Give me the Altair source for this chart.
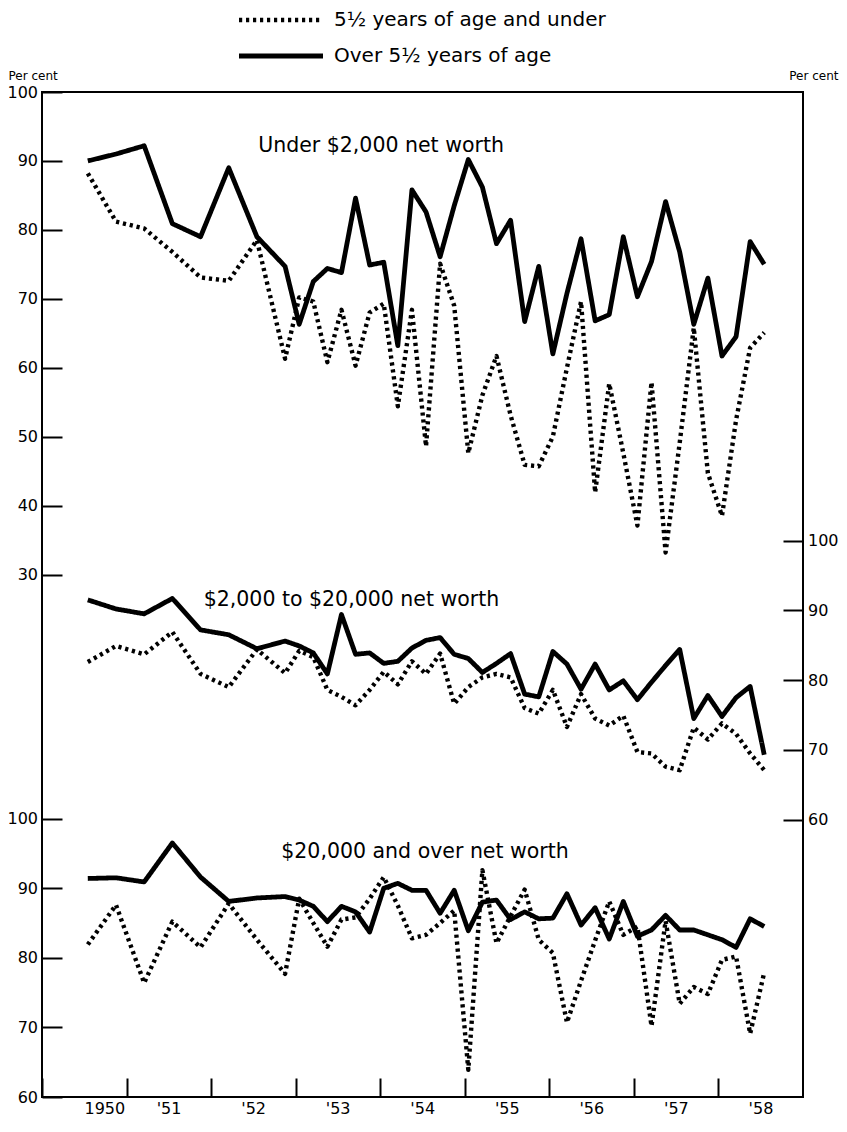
import altair as alt
import pandas as pd

YOUNG = "5½ years of age and under"
OLD = "Over 5½ years of age"

months = [
    "1950-07", "1950-11", "1951-03", "1951-07", "1951-11", "1952-03", "1952-07", "1952-11",
    "1953-01", "1953-03", "1953-05", "1953-07", "1953-09", "1953-11",
    "1954-01", "1954-03", "1954-05", "1954-07", "1954-09", "1954-11",
    "1955-01", "1955-03", "1955-05", "1955-07", "1955-09", "1955-11",
    "1956-01", "1956-03", "1956-05", "1956-07", "1956-09", "1956-11",
    "1957-01", "1957-03", "1957-05", "1957-07", "1957-09", "1957-11",
    "1958-01", "1958-03", "1958-05", "1958-07",
]

# Under $2,000 net worth
low_old = [90.0, 91.0, 92.2, 80.9, 79.0, 89.0, 79.0, 74.7, 66.3, 72.5, 74.4, 73.8, 84.6, 74.9,
           75.3, 63.2, 85.8, 82.6, 76.1, 83.5, 90.2, 86.2, 78.0, 81.4, 66.7, 74.7, 62.0, 70.8,
           78.7, 66.8, 67.7, 79.0, 70.3, 75.4, 84.1, 76.8, 66.3, 73.0, 61.7, 64.5, 78.3, 75.0]
low_young = [88.2, 81.2, 80.2, 76.8, 73.1, 72.6, 78.5, 61.3, 70.2, 69.6, 60.8, 68.4, 60.3, 68.0,
             69.3, 54.4, 68.4, 48.6, 75.1, 69.0, 47.6, 56.0, 61.7, 53.1, 45.9, 45.7, 50.0, 60.0,
             69.6, 41.9, 57.7, 47.6, 37.1, 57.9, 33.2, 49.1, 65.8, 44.7, 38.5, 52.4, 62.9, 65.1]

# $2,000 to $20,000 net worth
mid_old = [91.5, 90.2, 89.5, 91.7, 87.2, 86.5, 84.5, 85.6, 84.9, 83.9, 80.9, 89.4, 83.7, 83.9,
           82.4, 82.7, 84.6, 85.7, 86.1, 83.7, 83.1, 81.1, 82.4, 83.8, 78.0, 77.6, 84.1, 82.3,
           78.7, 82.3, 78.6, 79.9, 77.2, 79.7, 82.1, 84.4, 74.5, 77.8, 74.8, 77.5, 79.1, 69.3]
mid_young = [82.6, 84.9, 83.7, 86.9, 80.9, 79.0, 84.4, 81.0, 84.2, 83.3, 78.6, 77.6, 76.4, 78.6,
             81.2, 79.4, 82.7, 80.9, 83.8, 76.6, 79.0, 80.4, 80.9, 80.4, 76.0, 75.2, 78.6, 73.3,
             78.0, 74.5, 73.5, 74.9, 69.7, 69.5, 67.6, 67.1, 73.2, 71.5, 73.8, 72.3, 69.5, 67.1]

# $20,000 and over net worth
high_old = [91.4, 91.5, 90.9, 96.5, 91.6, 88.1, 88.6, 88.8, 88.3, 87.4, 85.2, 87.4, 86.6, 83.7,
            90.0, 90.7, 89.7, 89.7, 86.4, 89.7, 83.9, 88.0, 88.3, 85.5, 86.6, 85.6, 85.7, 89.2,
            84.7, 87.2, 82.7, 88.1, 83.1, 84.0, 86.1, 84.0, 84.0, 83.3, 82.6, 81.5, 85.6, 84.5]
high_young = [81.9, 87.6, 76.4, 85.2, 81.5, 87.8, 82.6, 77.7, 88.5, 85.0, 81.6, 85.5, 85.8, 88.5,
              91.6, 87.5, 82.8, 83.3, 85.0, 86.8, 63.9, 92.6, 82.1, 86.0, 89.8, 82.6, 80.7, 70.7,
              76.7, 82.5, 88.1, 83.3, 84.5, 70.2, 85.3, 73.4, 75.8, 74.8, 79.7, 80.2, 69.1, 77.9]

panel_names = ["low", "mid", "high"]
panel_titles = ["Under $2,000 net worth", "$2,000 to $20,000 net worth", "$20,000 and over net worth"]
# annotation anchor (year, value in the panel's own scale)
title_years = [1954.01, 1953.66, 1954.53]
title_values = [92.2, 91.5, 95.2]

t_values = [int(m[:4]) + (int(m[5:]) - 0.5) / 12 for m in months]

rows = []
for pname, old, young in [("low", low_old, low_young), ("mid", mid_old, mid_young),
                          ("high", high_old, high_young)]:
    for t, v in zip(t_values, young):
        rows.append({"t": t, "value": v, "panel": pname, "series": YOUNG})
    for t, v in zip(t_values, old):
        rows.append({"t": t, "value": v, "panel": pname, "series": OLD})
df = pd.DataFrame(rows)

titles_df = pd.DataFrame({"panel": panel_names, "label": panel_titles,
                          "t": title_years, "value": title_values})

FONT = "DejaVu Sans"

x_axis = alt.Axis(
    values=list(range(1950, 1959)),
    tickSize={"expr": "-19"},
    tickWidth=2,
    tickColor="black",
    labelPadding=22,
    labelOffset=42.0,
    labelFontSize=16,
    labelFont=FONT,
    labelColor="black",
    labelBaseline="top",
    labelExpr="datum.value == 1950 ? '1950' : \"'\" + slice(toString(datum.value), 2)",
    domain=False,
    grid=False,
    title=None,
)
x_scale = alt.Scale(domain=[1950, 1959], nice=False, zero=False)


def y_axis(values, orient, title=None, title_x=0, title_align="left"):
    kw = dict(
        values=values,
        orient=orient,
        tickSize={"expr": "-20"},
        tickWidth=2,
        tickColor="black",
        labelPadding=24.5,
        labelFontSize=16,
        labelFont=FONT,
        labelColor="black",
        labelBaseline="middle",
        domain=False,
        grid=False,
    )
    if title:
        kw.update(title=title, titleAngle=0, titleX=title_x, titleY=-10, titleAlign=title_align,
                  titleBaseline="bottom", titleFontSize=12, titleFontWeight="normal",
                  titleFont=FONT, titleColor="black")
    else:
        kw.update(title=None)
    return alt.Axis(**kw)


dash_scale = alt.Scale(domain=[YOUNG, OLD], range=[[3.2, 3.8], [1, 0]])
legend = alt.Legend(
    title=None,
    orient="none",
    legendX=229,
    legendY=-82,
    direction="vertical",
    padding=0,
    symbolType="M-8.4,0H8.4",
    symbolSize=100,
    symbolStrokeWidth=4.6,
    symbolStrokeColor="black",
    labelFontSize=20,
    labelFont=FONT,
    labelColor="black",
    labelOffset=43,
    labelLimit=0,
    rowPadding=16,
)

DOMAINS = {"low": [-45.8, 100], "mid": [20.28, 164.26], "high": [60, 204.41]}


def lines(name, axis):
    return alt.Chart(df).transform_filter(alt.datum.panel == name).mark_line(
        color="black", strokeCap="butt", strokeJoin="round"
    ).encode(
        x=alt.X("t:Q", scale=x_scale, axis=x_axis),
        y=alt.Y("value:Q", scale=alt.Scale(domain=DOMAINS[name], nice=False, zero=False),
                axis=axis),
        strokeDash=alt.StrokeDash("series:N", scale=dash_scale, legend=legend),
        strokeWidth=alt.StrokeWidth("series:N",
                                    scale=alt.Scale(domain=[YOUNG, OLD], range=[4.4, 4.8]),
                                    legend=None),
    )


def label(name):
    return alt.Chart(titles_df).transform_filter(alt.datum.panel == name).mark_text(
        font=FONT, fontSize=20.5, color="black", align="center", baseline="middle"
    ).encode(
        x=alt.X("t:Q", scale=x_scale, axis=x_axis),
        y=alt.Y("value:Q", scale=alt.Scale(domain=DOMAINS[name], nice=False, zero=False),
                axis=None),
        text="label:N",
    )


l_low = lines("low", y_axis([30, 40, 50, 60, 70, 80, 90, 100], "left", "Per cent", -34))
l_mid = lines("mid", y_axis([60, 70, 80, 90, 100], "right", "Per cent", 35, "right"))
l_high = lines("high", y_axis([60, 70, 80, 90, 100], "left"))

chart = alt.layer(
    l_low, l_mid, l_high, label("low"), label("mid"), label("high")
).resolve_scale(y="independent").properties(
    width=761,
    height=1005,
    padding={"left": 34, "top": 84, "right": 36, "bottom": 19},
    autosize=alt.AutoSizeParams(type="none"),
    background="white",
).configure_view(stroke="black", strokeWidth=2)

chart.save("out.html", embed_options={"renderer": "svg", "actions": False})
